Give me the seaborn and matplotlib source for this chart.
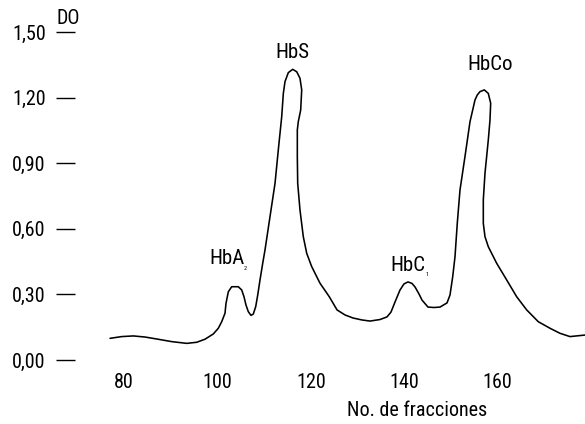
import os
import matplotlib
matplotlib.use("Agg")
import matplotlib.pyplot as plt
from matplotlib import font_manager as fm
import seaborn as sns
import pandas as pd

# Traced chromatogram (fraction number, optical density)
fraccion = [76.96, 79.46, 81.95, 84.46, 86.97, 90.18, 93.40, 95.54, 97.32, 99.10,
            100.17, 100.90, 101.61, 101.82, 102.32, 103.04, 104.46, 105.19, 105.68, 106.11,
            106.60, 107.18, 107.67, 108.19, 108.62, 109.11, 109.69, 110.18, 111.25, 112.33,
            113.03, 113.76, 114.11, 114.47, 115.18, 116.12, 116.98, 117.68, 118.05, 117.83,
            117.32, 117.11, 117.11, 117.19, 117.68, 118.39, 119.12, 120.19, 121.97, 123.97,
            125.62, 127.33, 129.05, 130.98, 132.69, 134.83, 136.33, 137.19, 138.05, 139.12,
            139.98, 140.84, 141.69, 142.34, 143.19, 143.84, 145.12, 146.41, 147.70, 149.20,
            149.84, 150.42, 150.91, 151.40, 151.98, 153.05, 154.13, 155.20, 155.69, 156.27,
            157.19, 158.05, 158.56, 158.41, 158.05, 157.34, 156.98, 156.98, 157.34, 158.05,
            159.85, 161.99, 164.14, 166.28, 168.77, 171.28, 173.42, 175.56, 178.78]
do_values = [0.099, 0.107, 0.110, 0.105, 0.096, 0.084, 0.076, 0.081, 0.095, 0.119,
             0.145, 0.175, 0.214, 0.259, 0.312, 0.335, 0.335, 0.320, 0.289, 0.251,
             0.221, 0.204, 0.210, 0.244, 0.297, 0.366, 0.442, 0.503, 0.655, 0.808,
             0.960, 1.112, 1.219, 1.273, 1.314, 1.329, 1.318, 1.288, 1.235, 1.143,
             1.090, 1.052, 0.930, 0.808, 0.686, 0.564, 0.488, 0.427, 0.351, 0.289,
             0.229, 0.206, 0.192, 0.183, 0.178, 0.185, 0.197, 0.219, 0.265, 0.320,
             0.348, 0.357, 0.350, 0.334, 0.302, 0.274, 0.242, 0.240, 0.242, 0.261,
             0.297, 0.381, 0.472, 0.625, 0.777, 0.930, 1.090, 1.189, 1.212, 1.227,
             1.235, 1.219, 1.174, 1.097, 1.006, 0.854, 0.732, 0.625, 0.564, 0.518,
             0.442, 0.366, 0.289, 0.229, 0.175, 0.145, 0.122, 0.107, 0.114]

x_ticks = [80, 100, 120, 140, 160]
y_ticks = [0.0, 0.30, 0.60, 0.90, 1.20, 1.50]
y_tick_labels = ["0,00", "0,30", "0,60", "0,90", "1,20", "1,50"]

peak_names = ["HbA", "HbS", "HbC", "HbCo"]
peak_x = [101.97, 115.97, 140.73, 158.41]
peak_y = [0.466, 1.404, 0.434, 1.349]
sub_text = ["2", "1"]
sub_x = [106.05, 144.97]
sub_y = [0.419, 0.389]


def pick_condensed():
    entries = fm.fontManager.ttflist

    def regular(f):
        return f.style == "normal" and f.weight in (400, "normal", "regular")

    prefs = ["Liberation Sans Narrow", "Arial Narrow", "Roboto Condensed",
             "Open Sans Condensed", "Noto Sans Condensed", "DejaVu Sans Condensed"]
    for p in prefs:
        for f in entries:
            if f.name == p and regular(f):
                return f.fname
    cands = []
    for f in entries:
        base = os.path.basename(f.fname)
        if not regular(f):
            continue
        if "Extra" in base or "Ultra" in base or "Semi" in base:
            continue
        if f.stretch == "condensed" or "Condensed" in base or "Narrow" in base:
            if "CJK" in f.name or "Mono" in f.name or "Serif" in f.name:
                continue
            cands.append(f)
    order = ["Roboto", "Noto Sans", "Open Sans", "Liberation", "DejaVu", "Lato", "Inter"]
    for o in order:
        for f in cands:
            if f.name.startswith(o):
                return f.fname
    return cands[0].fname if cands else None


fpath = pick_condensed()


def FP(size):
    if fpath:
        return fm.FontProperties(fname=fpath, size=size)
    return fm.FontProperties(family="Liberation Sans", size=size * 0.9)


sns.set_theme(style="white")
plt.rcParams["font.family"] = ["Liberation Sans", "DejaVu Sans"]

W, H = 585, 424
fig = plt.figure(figsize=(W / 100, H / 100), dpi=100)
left, right, top, bottom = 75, 585, 20, 365
ax = fig.add_axes([left / W, 1 - bottom / H, (right - left) / W, (bottom - top) / H])

df = pd.DataFrame({"fraccion": fraccion, "DO": do_values})
sns.lineplot(data=df, x="fraccion", y="DO", sort=False, estimator=None,
             color="black", linewidth=1.15, ax=ax)
for ln in ax.lines:
    ln.set_solid_joinstyle("round")
    ln.set_solid_capstyle("round")

ax.set_xlim(69.45, 178.78)
ax.set_ylim(-0.0229, 1.5546)
for s in ax.spines.values():
    s.set_visible(False)

ax.set_xticks(x_ticks)
ax.set_xticklabels([str(v) for v in x_ticks])
ax.set_yticks(y_ticks)
ax.set_yticklabels(y_tick_labels)
ax.tick_params(axis="x", length=0, pad=6, colors="black")
ax.tick_params(axis="y", length=13.5, width=1.0, direction="out", pad=7.5,
               colors="black", left=True)
for lbl in ax.get_xticklabels() + ax.get_yticklabels():
    lbl.set_fontproperties(FP(14.5))
ax.grid(False)

ax.set_ylabel("")
ax.set_xlabel("No. de fracciones", fontproperties=FP(14.5), color="black")
ax.xaxis.set_label_coords((417 - left) / (right - left), (bottom - 410) / (bottom - top))
ax.xaxis.label.set_va("center")

fig.text(68 / W, 1 - 19 / H, "DO", ha="center", va="center", fontproperties=FP(14.5),
         color="black")

for name, xx, yy in zip(peak_names, peak_x, peak_y):
    ax.text(xx, yy, name, ha="center", va="center", fontproperties=FP(15), color="black")
for t, xx, yy in zip(sub_text, sub_x, sub_y):
    ax.text(xx, yy, t, ha="center", va="center", fontproperties=FP(4.5), color="black")

fig.savefig("out.png", dpi=100)
